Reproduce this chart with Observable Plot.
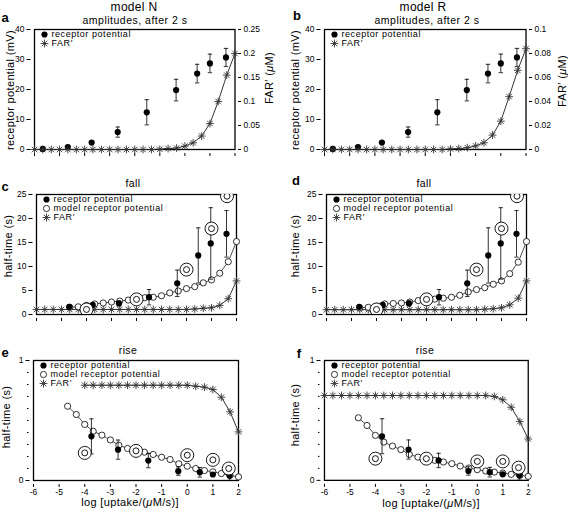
<!DOCTYPE html>
<html><head><meta charset="utf-8">
<script src="https://cdn.jsdelivr.net/npm/d3@7"></script>
<script src="https://cdn.jsdelivr.net/npm/@observablehq/plot@0.6"></script>
<style>
body{margin:0;background:#fff;font-family:"Liberation Sans",Arial,Helvetica,sans-serif;}
#root{position:relative;width:568px;height:512px;overflow:hidden;background:#fff;}
.abs{position:absolute;white-space:nowrap;line-height:1;color:#000;}
</style></head><body><div id="root"></div>
<script>
// ---------- data ----------
const xTicks = [-6,-5,-4,-3,-2,-1,0,1,2];
const grid25 = [-6,-5.67,-5.33,-5,-4.67,-4.33,-4,-3.67,-3.33,-3,-2.67,-2.33,-2,-1.67,-1.33,-1,-0.67,-0.33,0,0.33,0.67,1,1.33,1.67,2];
const grid21 = [-4.67,-4.33,-4,-3.67,-3.33,-3,-2.67,-2.33,-2,-1.67,-1.33,-1,-0.67,-0.33,0,0.33,0.67,1,1.33,1.67,2];
const grid19 = [-4,-3.67,-3.33,-3,-2.67,-2.33,-2,-1.67,-1.33,-1,-0.67,-0.33,0,0.33,0.67,1,1.33,1.67,2];

// amplitudes (a, b)
const ampX   = [-5.67,-4.67,-3.72,-2.68,-1.52,-0.35,0.49,1.0,1.64];
const ampY   = [0.2,0.8,2.3,5.8,12.4,19.8,25.3,28.7,30.7];
const ampErr = [0,0,0,1.7,4.2,3.6,3.1,3.1,3.0];
const farAmpN = [0,0,0,0,0,0,0,0,0,0,0,0,0,0,0,0.0005,0.002,0.003,0.007,0.014,0.028,0.054,0.100,0.155,0.200];
const farAmpR = [0,0,0,0,0,0,0,0,0,0,0,0,0,0,0,0.0004,0.0008,0.0015,0.003,0.0056,0.012,0.0236,0.044,0.066,0.084];

// fall (c, d)
const fallX   = [-4.69,-3.75,-2.7,-1.5,-0.37,0.47,0.97,1.6];
const fallY   = [1.6,2.0,2.3,3.6,6.5,12.3,14.8,16.8];
const fallErr = [0,0,0.5,1.6,2.75,5.75,7.45,4.85];
const fallModelN = [1.5,1.6,1.9,2.2,2.4,2.6,2.8,3.0,3.3,3.5,3.6,3.9,4.5,4.9,5.4,5.8,6.6,7.2,8.6,11.0,15.2];
const fallModelR = [1.4,1.5,1.7,2.2,2.3,2.4,2.6,2.9,3.0,3.2,3.4,3.6,4.0,4.7,5.2,5.6,6.3,7.0,8.5,10.9,15.2];
const fallFarN = [1.05,1.05,1.05,1.05,1.05,1.05,1.05,1.05,1.05,1.05,1.05,1.05,1.05,1.05,1.05,1.05,1.05,1.05,1.05,1.15,1.3,1.4,1.9,3.3,7.0];
const fallFarR = [1.0,1.0,1.0,1.0,1.0,1.0,1.0,1.0,1.0,1.0,1.0,1.0,1.0,1.0,1.0,1.0,1.0,1.0,1.0,1.1,1.2,1.4,2.0,3.4,7.0];
const tgtX = [-4,-2,0,1,1.62];
const fallTgtY = [1.05,3.15,9.35,17.9,24.65];

// rise (e, f)
const riseX   = [-3.74,-2.7,-1.52,-0.35,0.49,1.0,1.65];
const riseY   = [0.368,0.257,0.166,0.078,0.068,0.05,0.042];
const riseErr = [0.146,0.08,0.06,0.035,0.04,0.015,0.04];
const riseModelN = [0.619,0.55,0.467,0.41,0.378,0.338,0.294,0.267,0.25,0.236,0.217,0.194,0.175,0.139,0.119,0.1,0.083,0.072,0.058,0.042,0.03];
const riseModelR = [0.522,0.458,0.375,0.319,0.286,0.256,0.217,0.194,0.18,0.167,0.153,0.139,0.119,0.103,0.089,0.078,0.069,0.061,0.05,0.042,0.033];
const riseFarN = [0.794,0.794,0.794,0.794,0.794,0.794,0.794,0.794,0.794,0.794,0.794,0.794,0.794,0.786,0.778,0.758,0.694,0.572,0.405];
const riseFarR = [0.708,0.708,0.708,0.708,0.708,0.708,0.708,0.708,0.708,0.708,0.708,0.708,0.708,0.708,0.708,0.708,0.708,0.708,0.708,0.708,0.70,0.672,0.61,0.49,0.345];
const riseTgtN = [0.23,0.247,0.211,0.172,0.1];
const riseTgtR = [0.181,0.181,0.158,0.158,0.106];

const ampTicks  = [0,10,20,30,40];
const farTicksN = [0,0.05,0.1,0.15,0.2,0.25];
const farTicksR = [0,0.02,0.04,0.06,0.08,0.1];
const fallTicks = [0,5,10,15,20,25];
const riseTicks = [0,1];
const riseMinor = [0.1,0.2,0.3,0.4,0.5,0.6,0.7,0.8,0.9];

const legendAmp  = ["receptor potential","FAR\u2032"];
const legendTime = ["receptor potential","model receptor potential","FAR\u2032"];

// ---------- helpers ----------
const F = '"Liberation Sans", Arial, Helvetica, sans-serif';
const root = document.getElementById("root");
const rows = (xs, ys, es) => xs.map((x,i)=>({x, y: ys[i], e: es ? es[i] : 0}));

const star = {draw(ctx, size){ const r = Math.sqrt(size/Math.PI);
  for (const a of [0, Math.PI/4, Math.PI/2, 3*Math.PI/4]) {
    ctx.moveTo(r*Math.cos(a), r*Math.sin(a)); ctx.lineTo(-r*Math.cos(a), -r*Math.sin(a)); } }};
const cap = {draw(ctx, size){ const r = Math.sqrt(size/Math.PI); ctx.moveTo(-r,0); ctx.lineTo(r,0);} };

const TICK = 8.5;
function axisXm(labels){
  return Plot.axisX({ticks: xTicks, tickSize: 3, dy: 4, tickPadding: 1.5, fontSize: TICK,
    tickFormat: labels ? (d => String(d)) : (() => ""), label: null});
}
function axisYm(ticks, fmt){
  return Plot.axisY({ticks, tickSize: 4, dx: -3.5, tickPadding: 2.5, fontSize: TICK,
    tickFormat: fmt || (d => String(d)), label: null});
}
function legend(labels, syms){
  const out = [];
  const ys = [5, 14, 23];
  labels.forEach((lab, i) => {
    out.push(Plot.dot([lab], {frameAnchor: "top-left", dx: 10, dy: ys[i], ...syms[i]}));
    out.push(Plot.text([lab], {frameAnchor: "top-left", dx: 17, dy: ys[i], text: d => d,
      textAnchor: "start", lineAnchor: "middle", fontSize: 9, fill: "black"}));
  });
  return out;
}
const filledSym = {r: 3.1, fill: "black"};
const openSym = {r: 3.1, fill: "white", stroke: "black", strokeWidth: 0.8};
const starSym = {r: 3.9, symbol: star, stroke: "#333", strokeWidth: 0.9, fill: "none"};

function errorBars(data){
  const d = data.filter(v => v.e > 0);
  return [
    Plot.ruleX(d, {x: "x", y1: v => v.y - v.e, y2: v => v.y + v.e, stroke: "black", strokeWidth: 0.8}),
    Plot.dot(d, {x: "x", y: v => v.y + v.e, symbol: cap, r: 2.2, stroke: "black", strokeWidth: 0.8}),
    Plot.dot(d, {x: "x", y: v => v.y - v.e, symbol: cap, r: 2.2, stroke: "black", strokeWidth: 0.8})
  ];
}

function mkPlot({L, T, pw, ph=120, yd, marks, spaced}){
  const mL = 30, mR = 40, mT = 10, mB = 24;
  const svg = Plot.plot({
    width: mL + pw + mR, height: mT + ph + mB,
    marginLeft: mL, marginRight: mR, marginTop: mT, marginBottom: mB,
    x: {domain: [-6, 2], axis: null},
    y: {domain: yd, axis: null},
    style: {background: "transparent", overflow: "visible", fontFamily: F, color: "black"},
    marks
  });
  // widen letter spacing of legend labels, as in the reference
  svg.querySelectorAll("text").forEach(t => {
    if (spaced && spaced.includes(t.textContent)) t.setAttribute("letter-spacing", "0.55");
  });
  const wrap = document.createElement("div");
  wrap.className = "abs";
  wrap.style.left = (L - mL) + "px";
  wrap.style.top = (T - mT) + "px";
  wrap.appendChild(svg);
  root.appendChild(wrap);
}

function addText(html, x, y, {size = 11, weight = "normal", rotate = false, ls = 0} = {}){
  const d = document.createElement("div");
  d.className = "abs";
  d.innerHTML = html;
  d.style.fontSize = size + "px";
  d.style.fontWeight = weight;
  d.style.letterSpacing = ls + "px";
  d.style.left = x + "px";
  d.style.top = y + "px";
  d.style.transform = "translate(-50%,-50%)" + (rotate ? " rotate(-90deg)" : "");
  root.appendChild(d);
}

// ---------- amplitude panels (a, b) ----------
function ampPanel(L, T, pw, farVals, farTicks){
  const amp = rows(ampX, ampY, ampErr);
  mkPlot({L, T, pw, yd: [0, 40], spaced: legendAmp, marks: [
    Plot.frame({stroke: "black", strokeWidth: 1.3}),
    axisXm(false),
    axisYm(ampTicks),
    ...errorBars(amp),
    Plot.dot(amp, {x: "x", y: "y", ...filledSym}),
    ...legend(legendAmp, [filledSym, starSym])
  ]});
  const far = rows(grid25, farVals);
  mkPlot({L, T, pw, yd: [0, farTicks[farTicks.length - 1]], marks: [
    Plot.axisY({anchor: "right", ticks: farTicks, tickSize: 3, dx: 2.5, tickPadding: 3, fontSize: TICK,
      tickFormat: d => String(d), label: null}),
    Plot.line(far, {x: "x", y: "y", stroke: "black", strokeWidth: 0.8}),
    Plot.dot(far, {x: "x", y: "y", ...starSym})
  ]});
}
ampPanel(33.5, 29.3, 200.5, farAmpN, farTicksN);
ampPanel(324.3, 29.3, 201.5, farAmpR, farTicksR);

// ---------- time panels ----------
function timePanel({L, T, pw, yd, ticks, minor, xLabels, model, modelX, farVals, farX, expX, expY, expE, tgtY, tickFmt}){
  const exp = rows(expX, expY, expE);
  const mod = rows(modelX, model);
  const far = rows(farX, farVals);
  const tgt = rows(tgtX, tgtY);
  const marks = [
    Plot.frame({stroke: "black", strokeWidth: 1.3}),
    axisXm(xLabels),
    axisYm(ticks, tickFmt)
  ];
  if (minor) marks.push(Plot.axisY({ticks: minor, tickSize: 1.5, dx: -4.5, tickFormat: () => "", label: null}));
  marks.push(
    Plot.line(far, {x: "x", y: "y", stroke: "black", strokeWidth: 0.8}),
    Plot.dot(far, {x: "x", y: "y", ...starSym}),
    Plot.line(mod, {x: "x", y: "y", stroke: "black", strokeWidth: 0.7}),
    Plot.dot(mod, {x: "x", y: "y", ...openSym}),
    ...errorBars(exp),
    Plot.dot(exp, {x: "x", y: "y", ...filledSym}),
    Plot.dot(tgt, {x: "x", y: "y", r: 6.5, fill: "white", stroke: "black", strokeWidth: 0.9, clip: true}),
    Plot.dot(tgt, {x: "x", y: "y", r: 3, fill: "white", stroke: "black", strokeWidth: 0.9, clip: true}),
    ...legend(legendTime, [filledSym, openSym, starSym])
  );
  mkPlot({L, T, pw, yd, marks, spaced: legendTime});
}
timePanel({L: 35.7, T: 194.3, pw: 200, yd: [0, 25], ticks: fallTicks, xLabels: false,
  model: fallModelN, modelX: grid21, farVals: fallFarN, farX: grid25,
  expX: fallX, expY: fallY, expE: fallErr, tgtY: fallTgtY});
timePanel({L: 325.7, T: 194.3, pw: 200, yd: [0, 25], ticks: fallTicks, xLabels: false,
  model: fallModelR, modelX: grid21, farVals: fallFarR, farX: grid25,
  expX: fallX, expY: fallY, expE: fallErr, tgtY: fallTgtY});
timePanel({L: 32.5, T: 359.5, pw: 205, yd: [0, 1], ticks: riseTicks, minor: riseMinor, xLabels: true,
  model: riseModelN, modelX: grid21, farVals: riseFarN, farX: grid19,
  expX: riseX, expY: riseY, expE: riseErr, tgtY: riseTgtN});
timePanel({L: 324.3, T: 360, pw: 204, yd: [0, 1], ticks: riseTicks, minor: riseMinor, xLabels: true,
  model: riseModelR, modelX: grid21, farVals: riseFarR, farX: grid25,
  expX: riseX, expY: riseY, expE: riseErr, tgtY: riseTgtR});

// ---------- text ----------
addText("model N", 134, 7, {size: 12, ls: 0.3});
addText("model R", 423, 7, {size: 12, ls: 0.3});
addText("amplitudes, after 2 s", 135, 20, {size: 10.5, ls: 0.5});
addText("amplitudes, after 2 s", 427, 20, {size: 10.5, ls: 0.5});
addText("fall", 133, 183, {size: 10.5, ls: 0.4});
addText("fall", 424, 183, {size: 10.5, ls: 0.4});
addText("rise", 128, 350, {size: 10.5, ls: 0.4});
addText("rise", 425, 350, {size: 10.5, ls: 0.4});
addText("a", 5, 17, {size: 13, weight: "bold"});
addText("b", 297, 15, {size: 13, weight: "bold"});
addText("c", 5, 186, {size: 13, weight: "bold"});
addText("d", 296, 180, {size: 13, weight: "bold"});
addText("e", 5, 352, {size: 13, weight: "bold"});
addText("f", 299, 353, {size: 13, weight: "bold"});
addText("receptor potential (mV)", 10, 90, {size: 11, rotate: true, ls: 0.35});
addText("receptor potential (mV)", 295, 90, {size: 11, rotate: true, ls: 0.35});
addText("FAR\u2032 (<i>\u03bc</i>M)", 269, 78, {size: 11, rotate: true, ls: 0.35});
addText("FAR\u2032 (<i>\u03bc</i>M)", 562, 81, {size: 11, rotate: true, ls: 0.35});
addText("half-time (s)", 8, 246, {size: 11, rotate: true, ls: 0.35});
addText("half-time (s)", 295, 246, {size: 11, rotate: true, ls: 0.35});
addText("half-time (s)", 6, 417, {size: 11, rotate: true, ls: 0.35});
addText("half-time (s)", 295, 415, {size: 11, rotate: true, ls: 0.35});
addText("log [uptake/(<i>\u03bc</i>M/s)]", 130, 502, {size: 11, ls: 0.35});
addText("log [uptake/(<i>\u03bc</i>M/s)]", 431, 503, {size: 11, ls: 0.35});
</script></body></html>
